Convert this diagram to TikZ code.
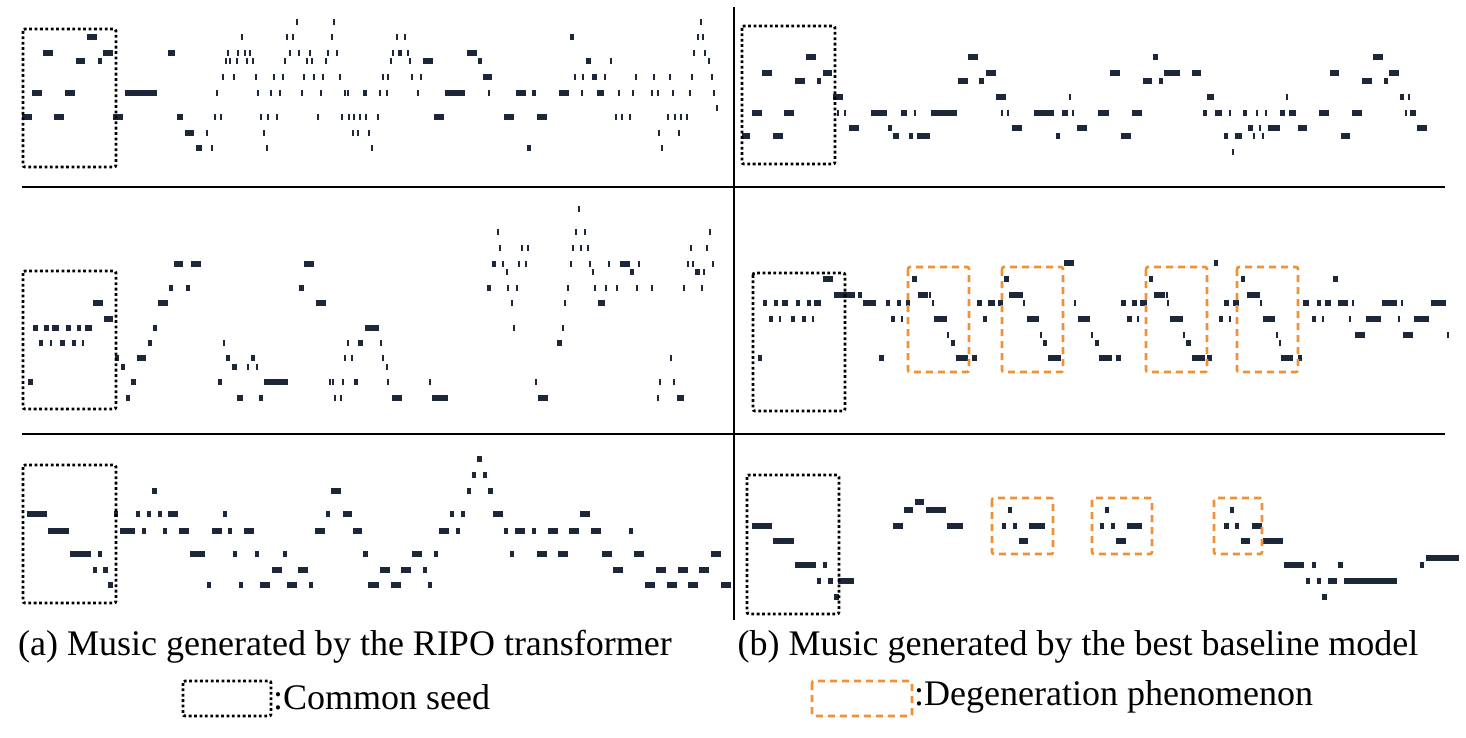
\documentclass[tikz,border=0pt]{standalone}
\usepackage{fontspec}
\setmainfont{Liberation Serif}
\definecolor{notec}{RGB}{28,40,58}
\definecolor{degc}{RGB}{240,145,55}
\tikzset{
  note/.style={fill=notec},
  seedbox/.style={draw=black,line width=2.8pt,dash pattern=on 2.8pt off 2.6pt,rounded corners=2pt},
  degbox/.style={draw=degc,line width=2.6pt,dash pattern=on 7pt off 5pt,rounded corners=2pt},
  divider/.style={draw=black,line width=2.6pt},
  captext/.style={font=\fontsize{36}{42}\selectfont,inner sep=0pt}
}
\newcommand{\rects}[1]{\foreach \a/\b/\y in {#1} \fill[note] (\a,\y-3) rectangle (\b,\y+3);}
\newcommand{\ticks}[1]{\foreach \a/\y in {#1} \fill[note] (\a-1.3,\y-3) rectangle (\a+1.3,\y+3);}
\begin{document}
\begin{tikzpicture}[x=1pt,y=-1pt]
\useasboundingbox (0,0) rectangle (1466,738);
\fill[white] (0,0) rectangle (1466,738);
% dividers
\draw[divider] (22,187) -- (1445,187);
\draw[divider] (22,434) -- (1445,434);
\draw[divider] (734,7) -- (734,620);
% ---------- top left ----------
\rects{87/97/37, 43/53/53, 103/113/53, 168/175/53, 76/85/61, 98/102/61, 32/42/93, 65/75/93, 125/157/93, 22/32/117, 54/64/117, 113/123/117, 177/183/117, 185/194/133, 196/202/148, 570/574/37, 398/402/53, 467/477/53, 423/433/61, 478/482/61, 586/591/61, 483/492/77, 592/597/77, 445/465/93, 516/526/93, 532/536/93, 559/569/93, 597/604/93, 434/444/117, 504/514/117, 537/547/117, 527/531/148}
\ticks{297/22, 334/22, 701/22, 242/37, 287/37, 293/37, 332/37, 397/37, 405/37, 698/37, 703/37, 228/53, 238/53, 245/53, 250/53, 290/53, 299/53, 310/53, 328/53, 337/53, 393/53, 408/53, 694/53, 705/53, 226/61, 230/61, 237/61, 247/61, 253/61, 285/61, 307/61, 312/61, 326/61, 391/61, 410/61, 611/61, 709/61, 223/77, 234/77, 256/77, 274/77, 283/77, 304/77, 314/77, 323/77, 340/77, 383/77, 388/77, 412/77, 421/77, 575/77, 583/77, 605/77, 636/77, 654/77, 670/77, 692/77, 712/77, 217/93, 258/93, 271/93, 280/93, 302/93, 321/93, 345/93, 348/93, 364/93, 366/93, 380/93, 387/93, 418/93, 489/93, 582/93, 619/93, 633/93, 652/93, 658/93, 673/93, 690/93, 714/93, 717/108, 215/117, 221/117, 261/117, 268/117, 277/117, 318/117, 342/117, 349/117, 354/117, 360/117, 366/117, 378/117, 616/117, 622/117, 630/117, 668/117, 675/117, 681/117, 687/117, 207/133, 264/133, 353/133, 358/133, 369/133, 659/133, 679/133, 212/148, 267/148, 372/148, 662/148}
% ---------- top right ----------
\rects{806/816/57, 968/978/57, 1153/1158/57, 1373/1383/57, 762/772/73, 823/832/73, 986/996/73, 1110/1120/73, 1164/1180/73, 1192/1201/73, 1330/1339/73, 1389/1399/73, 795/805/81, 817/821/81, 958/968/81, 979/984/81, 1143/1152/81, 1159/1163/81, 1362/1372/81, 1384/1388/81, 833/843/97, 996/1006/97, 1207/1214/97, 1400/1404/97, 752/762/113, 784/794/113, 871/887/113, 901/907/113, 931/957/113, 1034/1054/113, 1062/1068/113, 1098/1109/113, 1132/1142/113, 1203/1207/113, 1215/1222/113, 1243/1247/113, 1280/1285/113, 1289/1296/113, 1319/1329/113, 1352/1362/113, 1410/1416/113, 849/859/128, 888/892/128, 1012/1022/128, 1077/1087/128, 1248/1253/128, 1268/1280/128, 1298/1307/128, 1417/1427/128, 742/750/136, 773/783/136, 893/899/136, 909/913/136, 917/930/136, 1056/1060/136, 1121/1131/136, 1224/1228/136, 1235/1242/136, 1341/1350/136}
\ticks{1070/97, 1287/97, 1409/97, 838/113, 845/113, 915/113, 1002/113, 1008/113, 1073/113, 1230/113, 1257/113, 1266/113, 1406/113, 1260/128, 1254/136, 1263/136, 1233/152}
% ---------- middle left ----------
\rects{174/183/264, 191/201/264, 304/314/264, 492/496/264, 620/630/264, 169/173/288, 186/190/288, 299/304/288, 487/491/288, 93/103/303, 158/168/303, 316/326/303, 598/605/303, 104/113/319, 33/38/328, 44/49/328, 52/59/328, 66/71/328, 77/81/328, 85/92/328, 153/157/328, 365/379/328, 39/43/343, 60/65/343, 72/76/343, 148/152/343, 358/363/343, 557/562/343, 115/119/358, 137/146/358, 226/230/358, 251/255/358, 121/125/367, 232/237/367, 28/33/382, 131/136/382, 218/222/382, 264/288/382, 354/358/382, 126/130/398, 237/243/398, 259/263/398, 392/402/398, 432/448/398, 538/548/398, 677/684/398, 630/634/272, 695/700/272}
\ticks{579/209, 498/232, 576/232, 585/232, 710/232, 500/248, 522/248, 528/248, 573/248, 581/248, 588/248, 691/248, 707/248, 503/264, 519/264, 526/264, 571/264, 590/264, 609/264, 639/264, 688/264, 693/264, 713/264, 507/272, 593/272, 704/272, 508/288, 517/288, 568/288, 595/288, 606/288, 617/288, 637/288, 652/288, 684/288, 702/288, 512/303, 565/303, 514/328, 563/328, 51/343, 83/343, 224/343, 348/343, 381/343, 345/358, 352/358, 383/358, 671/358, 248/367, 257/367, 387/367, 330/382, 333/382, 343/382, 388/382, 430/382, 536/382, 660/382, 674/382, 335/398, 341/398, 658/398}
% ---------- middle right ----------
\rects{1064/1074/263, 1214/1218/263, 823/833/279, 912/917/279, 1004/1009/279, 1149/1153/279, 1241/1245/279, 1333/1338/279, 834/855/295, 858/862/295, 918/928/295, 1009/1021/295, 1154/1165/295, 1247/1258/295, 763/767/303, 774/778/303, 782/788/303, 796/800/303, 807/811/303, 814/821/303, 863/876/303, 886/890/303, 897/901/303, 906/910/303, 977/982/303, 988/995/303, 998/1003/303, 1121/1126/303, 1132/1137/303, 1140/1147/303, 1224/1229/303, 1233/1239/303, 1303/1309/303, 1317/1321/303, 1325/1331/303, 1338/1348/303, 1382/1397/303, 1431/1446/303, 769/773/319, 791/795/319, 802/806/319, 891/895/319, 934/947/319, 983/987/319, 1027/1039/319, 1078/1090/319, 1127/1132/319, 1170/1183/319, 1219/1223/319, 1263/1275/319, 1312/1316/319, 1366/1381/319, 1414/1429/319, 1355/1365/335, 1403/1413/335, 951/955/343, 1043/1047/343, 1095/1099/343, 1186/1191/343, 758/762/358, 879/884/358, 956/968/358, 972/977/358, 1048/1061/358, 1099/1112/358, 1116/1121/358, 1192/1205/358, 1207/1212/358, 1281/1293/358, 1298/1302/358}
\ticks{930/295, 1022/295, 1167/295, 1259/295, 933/303, 1024/303, 1075/303, 1168/303, 1261/303, 1353/303, 1402/303, 780/319, 813/319, 902/319, 1138/319, 1230/319, 1323/319, 1350/319, 1399/319, 948/335, 1041/335, 1092/335, 1184/335, 1277/335, 1448/335, 1280/343}
% ---------- bottom left ----------
\rects{152/157/491, 331/341/491, 467/471/491, 488/493/491, 477/482/459, 472/476/475, 483/487/475, 27/47/514, 114/118/514, 136/140/514, 147/151/514, 158/162/514, 168/178/514, 223/227/514, 326/330/514, 343/352/514, 450/454/514, 461/465/514, 493/503/514, 580/590/514, 48/69/531, 120/135/531, 142/146/531, 163/167/531, 179/189/531, 212/222/531, 228/232/531, 244/254/531, 315/325/531, 353/362/531, 439/449/531, 456/460/531, 504/508/531, 515/525/531, 532/536/531, 548/558/531, 569/579/531, 591/601/531, 629/633/531, 70/91/554, 98/102/554, 190/205/554, 233/237/554, 255/259/554, 283/287/554, 363/368/554, 412/422/554, 434/438/554, 510/514/554, 537/547/554, 558/568/554, 602/612/554, 634/644/554, 711/721/554, 93/97/570, 103/108/570, 272/282/570, 298/308/570, 380/390/570, 401/411/570, 423/427/570, 613/623/570, 656/666/570, 678/688/570, 699/709/570, 108/113/585, 207/211/585, 239/243/585, 260/270/585, 287/297/585, 309/313/585, 368/379/585, 391/401/585, 428/432/585, 645/655/585, 667/677/585, 688/698/585, 721/731/585}
% ---------- bottom right ----------
\rects{915/924/502, 904/913/510, 926/946/510, 1008/1012/510, 1105/1109/510, 1230/1234/510, 752/772/526, 893/903/526, 947/963/526, 1002/1006/526, 1013/1017/526, 1029/1045/526, 1100/1104/526, 1111/1115/526, 1127/1142/526, 1224/1229/526, 1235/1239/526, 1252/1262/526, 773/794/541, 1019/1028/541, 1116/1126/541, 1241/1250/541, 1263/1283/541, 1426/1459/558, 795/816/565, 823/827/565, 1284/1304/565, 1312/1316/565, 1338/1343/565, 1420/1424/565, 817/821/581, 828/833/581, 838/854/581, 1306/1310/581, 1317/1321/581, 1328/1337/581, 1344/1397/581, 834/839/597, 1322/1327/597}
% ---------- seed boxes ----------
\draw[seedbox] (23,29) rectangle (116,167);
\draw[seedbox] (742,26) rectangle (835,164);
\draw[seedbox] (23,271) rectangle (116,409);
\draw[seedbox] (753,273) rectangle (845,411);
\draw[seedbox] (23,465) rectangle (116,603);
\draw[seedbox] (747,475) rectangle (839,614);
% ---------- degeneration boxes ----------
\foreach \a/\b in {908/969, 1002/1063, 1146/1207, 1237/1298} \draw[degbox] (\a,267) rectangle (\b,372);
\foreach \a/\b in {992/1053, 1092/1152, 1214/1262} \draw[degbox] (\a,498) rectangle (\b,554);
% ---------- captions ----------
\node[captext] (capa) at (345,647) {(a) Music generated by the RIPO transformer};
\node[captext] (capb) at (1078,647) {(b) Music generated by the best baseline model};
\draw[seedbox] (183,681) rectangle (271,716);
\node[captext,anchor=west] (lega) at (273,697) {:Common seed};
\draw[degbox] (812,681) rectangle (912,716);
\node[captext,anchor=west] (legb) at (914,697) {:Degeneration phenomenon};
\end{tikzpicture}
\end{document}
